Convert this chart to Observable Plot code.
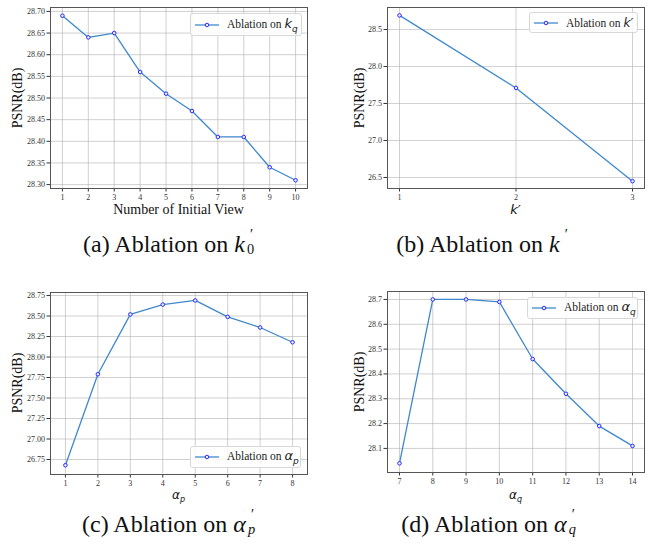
<!DOCTYPE html>
<html><head><meta charset="utf-8">
<script src="https://cdn.jsdelivr.net/npm/d3@7"></script>
<script src="https://cdn.jsdelivr.net/npm/@observablehq/plot@0.6"></script>
<style>
body{margin:0;background:#fff;}
#root{position:relative;width:654px;height:550px;background:#fff;overflow:hidden;font-family:"Liberation Serif","DejaVu Serif",serif;}
.panel{position:absolute;}
.legend{position:absolute;background:rgba(255,255,255,0.85);border:1px solid #d8d8d8;border-radius:3px;box-sizing:border-box;display:flex;align-items:center;font-family:"Liberation Serif",serif;font-size:11.5px;color:#222;white-space:nowrap;}
.legend svg{margin:0 8px 0 4px;flex:none;}
.math{font-family:"DejaVu Sans",sans-serif;font-style:italic;}
.cap{position:absolute;font-family:"Liberation Serif",serif;font-size:24px;line-height:30px;color:#111;white-space:nowrap;transform:translateX(-50%);}
.ylab{position:absolute;font-family:"Liberation Serif",serif;font-size:14px;line-height:1;color:#111;transform:translate(-50%,-50%) rotate(-90deg);white-space:nowrap;}
.xlab{position:absolute;font-size:13px;line-height:1;color:#111;transform:translateX(-50%);white-space:nowrap;}
.ss{position:relative;display:inline-block;width:0.5em;height:1em;}
.ss .pr{position:absolute;left:5px;top:-0.05em;font-size:0.6em;line-height:1;font-style:normal;}
.ss .sb{position:absolute;left:2px;bottom:-0.3em;font-size:0.6em;line-height:1;}
</style></head>
<body><div id="root"></div>
<script>
// ---- data ----
const aX = [1,2,3,4,5,6,7,8,9,10];
const aY = [28.69,28.64,28.65,28.56,28.51,28.47,28.41,28.41,28.34,28.31];
const aYTicks = [28.30,28.35,28.40,28.45,28.50,28.55,28.60,28.65,28.70];

const bX = [1,2,3];
const bY = [28.69,27.71,26.45];
const bYTicks = [26.5,27.0,27.5,28.0,28.5];

const cX = [1,2,3,4,5,6,7,8];
const cY = [26.68,27.79,28.52,28.64,28.69,28.49,28.36,28.18];
const cYTicks = [26.75,27.00,27.25,27.50,27.75,28.00,28.25,28.50,28.75];

const dX = [7,8,9,10,11,12,13,14];
const dY = [28.04,28.70,28.70,28.69,28.46,28.32,28.19,28.11];
const dYTicks = [28.1,28.2,28.3,28.4,28.5,28.6,28.7];

const LINE = "#3f88cc", MARK = "#2a2aff";
const root = document.getElementById("root");

function panel(o){
  const data = o.x.map((x,i)=>({x, y:o.y[i]}));
  const p = Plot.plot({
    width:o.w, height:o.h,
    marginLeft:o.ml, marginRight:o.w-o.fr, marginTop:o.ft, marginBottom:o.h-o.fb,
    style:{fontFamily:"Liberation Serif, serif", fontSize:"8px", color:"#333", background:"transparent"},
    x:{domain:o.xd, ticks:o.x, tickFormat:d=>String(d), label:null, tickSize:3.5, tickPadding:2},
    y:{domain:o.yd, ticks:o.yt, tickFormat:o.yf, label:null, tickSize:3.5, tickPadding:2},
    marks:[
      Plot.gridX(o.x,{stroke:"#b0b0b0", strokeOpacity:0.6, strokeWidth:1}),
      Plot.gridY(o.yt,{stroke:"#b0b0b0", strokeOpacity:0.6, strokeWidth:1}),
      Plot.line(data,{x:"x", y:"y", stroke:LINE, strokeWidth:1.3}),
      Plot.dot(data,{x:"x", y:"y", r:1.8, stroke:MARK, strokeWidth:1, fill:"#e8ecff"}),
      Plot.frame({stroke:"#555", strokeWidth:1})
    ]
  });
  const d = document.createElement("div");
  d.className="panel"; d.style.left=o.left+"px"; d.style.top=o.top+"px";
  d.appendChild(p); root.appendChild(d);
  const yl=document.createElement("div"); yl.className="ylab"; yl.textContent="PSNR(dB)";
  yl.style.left=(o.left+o.ylx)+"px"; yl.style.top=(o.top+(o.ft+o.fb)/2)+"px"; root.appendChild(yl);
  const xl=document.createElement("div"); xl.className="xlab"; xl.innerHTML=o.xlab;
  xl.style.left=(o.left+(o.ml+o.fr)/2)+"px"; xl.style.top=(o.top+o.xly)+"px"; root.appendChild(xl);
  const lg=document.createElement("div"); lg.className="legend";
  lg.style.left=o.lg[0]+"px"; lg.style.top=o.lg[1]+"px"; lg.style.width=o.lg[2]+"px"; lg.style.height=o.lg[3]+"px";
  lg.innerHTML=`<svg width="24" height="8"><line x1="0" y1="4" x2="24" y2="4" stroke="${LINE}" stroke-width="1.3"/><circle cx="12" cy="4" r="1.8" stroke="${MARK}" fill="#e8ecff" stroke-width="1"/></svg><span>Ablation on ${o.lgm}</span>`;
  root.appendChild(lg);
}

const f2 = d3.format(".2f"), f1 = d3.format(".1f");

panel({left:0, top:0, w:327, h:222, ml:50, fr:307, ft:7, fb:188,
  x:aX, y:aY, yt:aYTicks, xd:[0.54,10.46], yd:[28.291,28.709], yf:f2,
  ylx:18, xly:203, xlab:`<span style="font-family:'Liberation Serif',serif;font-size:14px">Number of Initial View</span>`,
  lg:[190,13,112,23], lgm:`<span class="math" style="font-size:13px">k<sub style="font-size:9px">q</sub></span>`});

panel({left:330, top:0, w:324, h:222, ml:57, fr:314, ft:7, fb:188,
  x:bX, y:bY, yt:bYTicks, xd:[0.897,3.103], yd:[26.351,28.797], yf:f1,
  ylx:30, xly:203, xlab:`<span class="math" style="font-size:13px">k′</span>`,
  lg:[529,12,109,21], lgm:`<span class="math" style="font-size:12px">k′</span>`});

panel({left:0, top:275, w:327, h:230, ml:50, fr:307, ft:17, fb:199,
  x:cX, y:cY, yt:cYTicks, xd:[0.54,8.46], yd:[26.567,28.787], yf:f2,
  ylx:18, xly:213, xlab:`<span class="math" style="font-size:12px">α<sub style="font-size:8px">p</sub></span>`,
  lg:[190,446,111,22], lgm:`<span class="math" style="font-size:13px">α<sub style="font-size:9px">p</sub></span>`});

panel({left:330, top:275, w:324, h:230, ml:57, fr:314, ft:16, fb:197,
  x:dX, y:dY, yt:dYTicks, xd:[6.64,14.36], yd:[28.003,28.732], yf:f1,
  ylx:30, xly:213, xlab:`<span class="math" style="font-size:12px">α<sub style="font-size:8px">q</sub></span>`,
  lg:[527,297,111,22], lgm:`<span class="math" style="font-size:13px">α<sub style="font-size:9px">q</sub></span>`});

function cap(x, y, label, sym, sub){
  const c=document.createElement("div"); c.className="cap";
  c.style.left=x+"px"; c.style.top=y+"px";
  const sb = sub ? `<span class="sb" style="font-style:${sub==='0'?'normal':'italic'}">${sub}</span>` : "";
  c.innerHTML=`${label} Ablation on <i>${sym}</i><span class="ss"><span class="pr">′</span>${sb}</span>`;
  root.appendChild(c);
}
cap(170,228,"(a)","k","0");
cap(484,228,"(b)","k","");
cap(170,508,"(c)","α","p");
cap(490,508,"(d)","α","q");
</script></body></html>
